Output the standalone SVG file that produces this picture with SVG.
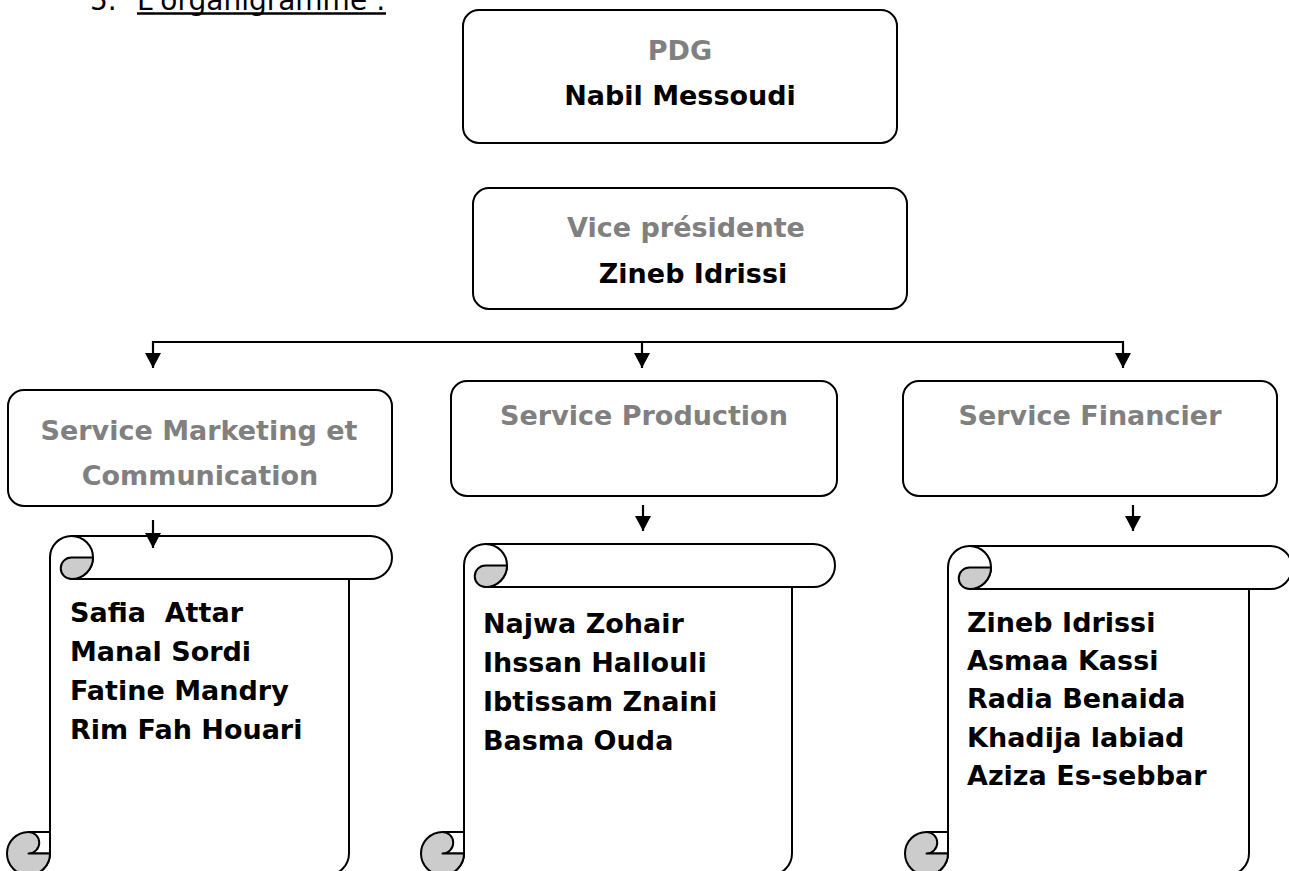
<svg xmlns="http://www.w3.org/2000/svg" xmlns:xlink="http://www.w3.org/1999/xlink" width="1289" height="871" viewBox="0 0 1289 871">
<style>
text{font-family:"DejaVu Sans","Liberation Sans",sans-serif;font-size:27px;font-weight:bold}
.g{fill:#808080}
.k{fill:#000}
.mid{text-anchor:middle}
.box{fill:#fff;stroke:#000;stroke-width:2}
.sc{fill:#fff;stroke:#000;stroke-width:2;stroke-linejoin:round}
.ln{fill:none;stroke:#000;stroke-width:2}
.curl{fill:#cccccc;stroke:#000;stroke-width:2;stroke-linejoin:round}
.con{fill:none;stroke:#000;stroke-width:2.2}
.title{font-weight:normal;font-size:28px;fill:#000}
</style>
<defs>
<marker id="ah" markerUnits="userSpaceOnUse" markerWidth="15" markerHeight="16" refX="15" refY="8" orient="auto" viewBox="0 0 15 16">
<path d="M0,0 L15,8 L0,16 Z" fill="#000"/>
</marker>
<g id="curlTop">
<path class="ln" d="M21.5,0 A21.5,21.5 0 0 1 21.5,43"/>
<path class="curl" d="M21.5,21.5 L43,21.5 A21.5,21.5 0 0 1 21.5,43 A10.75,10.75 0 0 1 21.5,21.5 Z"/>
</g>
<g id="curlBot">
<path class="ln" d="M-21.5,-43 L0,-43 M-21.5,-21.5 L0,-21.5"/>
<path class="curl" d="M-21.5,-43 A10.75,10.75 0 0 1 -21.5,-21.5 L0,-21.5 A21.5,21.5 0 1 1 -21.5,-43 Z"/>
</g>
</defs>
<rect width="1289" height="871" fill="#fff"/>

<g id="title">
<text class="title" x="90" y="10">5.</text>
<text class="title" x="137" y="10">L'organigramme :</text>
<line x1="137" y1="13.5" x2="386" y2="13.5" stroke="#000" stroke-width="2.5"/>
</g>

<g id="pdg">
<rect class="box" x="463" y="10" width="434" height="133" rx="16"/>
<text class="g mid" x="680" y="60">PDG</text>
<text class="k mid" x="680" y="105">Nabil Messoudi</text>
</g>

<g id="vice">
<rect class="box" x="473" y="188" width="434" height="121" rx="16"/>
<text class="g mid" x="686" y="237">Vice présidente</text>
<text class="k mid" x="693" y="283">Zineb Idrissi</text>
</g>

<g id="marketing">
<rect class="box" x="8" y="390" width="384" height="116" rx="16"/>
<text class="g mid" x="199" y="440">Service Marketing et</text>
<text class="g mid" x="200" y="485">Communication</text>
</g>

<g id="production">
<rect class="box" x="451" y="381" width="386" height="115" rx="16"/>
<text class="g mid" x="644" y="425">Service Production</text>
</g>

<g id="financier">
<rect class="box" x="903" y="381" width="374" height="115" rx="16"/>
<text class="g mid" x="1090" y="425">Service Financier</text>
</g>

<g id="scroll-marketing" transform="translate(50,536)">
<path class="sc" d="M0,21.5 A21.5,21.5 0 0 1 21.5,0 L320.5,0 A21.5,21.5 0 0 1 320.5,43 L299,43 L299,317.5 A21.5,21.5 0 0 1 277.5,339 L-21.5,339 A21.5,21.5 0 0 0 0,317.5 Z"/>
<path class="ln" d="M21.5,43 L299,43"/>
<use xlink:href="#curlTop"/>
<use xlink:href="#curlBot" x="0" y="339"/>
</g>
<g id="list-marketing">
<text class="k" x="70" y="622" style="white-space:pre">Safia  Attar</text>
<text class="k" x="70" y="661">Manal Sordi</text>
<text class="k" x="70" y="700">Fatine Mandry</text>
<text class="k" x="70" y="739">Rim Fah Houari</text>
</g>

<g id="scroll-production" transform="translate(464,544)">
<path class="sc" d="M0,21.5 A21.5,21.5 0 0 1 21.5,0 L349.5,0 A21.5,21.5 0 0 1 349.5,43 L328,43 L328,309.5 A21.5,21.5 0 0 1 306.5,331 L-21.5,331 A21.5,21.5 0 0 0 0,309.5 Z"/>
<path class="ln" d="M21.5,43 L328,43"/>
<use xlink:href="#curlTop"/>
<use xlink:href="#curlBot" x="0" y="331"/>
</g>
<g id="list-production">
<text class="k" x="483" y="633">Najwa Zohair</text>
<text class="k" x="483" y="672">Ihssan Hallouli</text>
<text class="k" x="483" y="711">Ibtissam Znaini</text>
<text class="k" x="483" y="750">Basma Ouda</text>
</g>

<g id="scroll-financier" transform="translate(948,546)">
<path class="sc" d="M0,21.5 A21.5,21.5 0 0 1 21.5,0 L322.5,0 A21.5,21.5 0 0 1 322.5,43 L301,43 L301,307.5 A21.5,21.5 0 0 1 279.5,329 L-21.5,329 A21.5,21.5 0 0 0 0,307.5 Z"/>
<path class="ln" d="M21.5,43 L301,43"/>
<use xlink:href="#curlTop"/>
<use xlink:href="#curlBot" x="0" y="329"/>
</g>
<g id="list-financier">
<text class="k" x="967" y="632">Zineb Idrissi</text>
<text class="k" x="967" y="670">Asmaa Kassi</text>
<text class="k" x="967" y="708">Radia Benaida</text>
<text class="k" x="967" y="747">Khadija labiad</text>
<text class="k" x="967" y="785">Aziza Es-sebbar</text>
</g>

<g id="connectors">
<path class="con" d="M153,342 L1123,342"/>
<path class="con" d="M153,341 L153,368" marker-end="url(#ah)"/>
<path class="con" d="M642,342 L642,368" marker-end="url(#ah)"/>
<path class="con" d="M1123,341 L1123,368" marker-end="url(#ah)"/>
<path class="con" d="M153,520 L153,548" marker-end="url(#ah)"/>
<path class="con" d="M643,505 L643,531" marker-end="url(#ah)"/>
<path class="con" d="M1133,505 L1133,531" marker-end="url(#ah)"/>
</g>
</svg>
